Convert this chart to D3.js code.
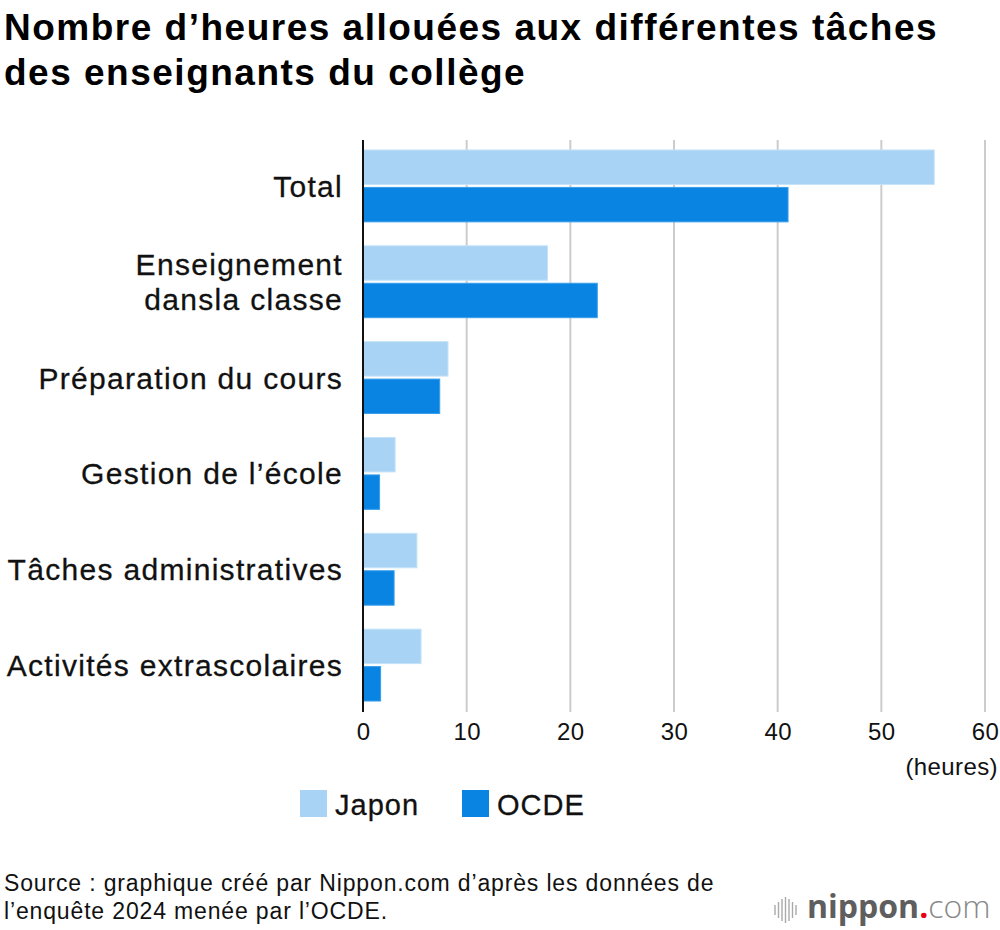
<!DOCTYPE html>
<html>
<head>
<meta charset="utf-8">
<script src="https://cdn.jsdelivr.net/npm/d3@7"></script>
<style>
  body { margin: 0; background: #fff; }
  svg { display: block; font-family: "Liberation Sans", Arial, sans-serif; }
</style>
</head>
<body>
<svg id="chart" width="1000" height="930"></svg>
<script>
const categories = [
  ["Total"],
  ["Enseignement", "dansla classe"],
  ["Préparation du cours"],
  ["Gestion de l’école"],
  ["Tâches administratives"],
  ["Activités extrascolaires"]
];
const series = ["Japon", "OCDE"];
const japon = [55.1, 17.8, 8.2, 3.1, 5.2, 5.6];
const ocde = [41.0, 22.6, 7.4, 1.6, 3.0, 1.7];
const xTicks = [0, 10, 20, 30, 40, 50, 60];
const colors = { "Japon": "#a8d3f5", "OCDE": "#0984e3" };
const strokes = { "Japon": "#c4e2f9", "OCDE": "#3a9eea" };

const svg = d3.select("#chart");
const keys = categories.map((c) => c.join(" "));
const rows = keys.map((k, i) => ({ key: k, lines: categories[i], Japon: japon[i], OCDE: ocde[i] }));

const x = d3.scaleLinear().domain([0, 60]).range([363, 985]);
const y = d3.scaleBand().domain(keys).range([138, 713]).paddingInner(0.25).paddingOuter(0.125);
const yInner = d3.scaleBand().domain(series).range([0, y.bandwidth()]).paddingInner(0.08);

// title
svg.append("text")
  .attr("x", 4).attr("y", 0)
  .style("font-size", "37px").style("font-weight", "bold")
  .style("letter-spacing", "1.5px")
  .selectAll("tspan")
  .data(["Nombre d’heures allouées aux différentes tâches", "des enseignants du collège"])
  .enter().append("tspan")
  .attr("x", 4)
  .attr("y", (d, i) => 40 + i * 45)
  .text((d) => d);

// grid
svg.append("g")
  .selectAll("line")
  .data(xTicks.filter((t) => t > 0))
  .enter().append("line")
  .attr("x1", (d) => x(d)).attr("x2", (d) => x(d))
  .attr("y1", 140).attr("y2", 712)
  .attr("stroke", "#cccccc").attr("stroke-width", 2);

// bars
const groups = svg.append("g")
  .selectAll("g")
  .data(rows)
  .enter().append("g")
  .attr("transform", (d) => "translate(0," + y(d.key) + ")");

groups.selectAll("rect")
  .data((d) => series.map((s) => ({ s: s, v: d[s] })))
  .enter().append("rect")
  .attr("x", x(0))
  .attr("y", (d) => yInner(d.s))
  .attr("width", (d) => x(d.v) - x(0))
  .attr("height", yInner.bandwidth())
  .attr("fill", (d) => colors[d.s])
  .attr("stroke", (d) => strokes[d.s])
  .attr("stroke-width", 1);

// category labels
groups.append("text")
  .attr("text-anchor", "end")
  .style("font-size", "30px")
  .style("letter-spacing", "1.3px")
  .attr("fill", "#111")
  .attr("stroke", "#111").attr("stroke-width", 0.3)
  .selectAll("tspan")
  .data((d) => d.lines.map((l, i) => ({ l: l, i: i, n: d.lines.length })))
  .enter().append("tspan")
  .attr("x", 343)
  .attr("y", (d) => y.bandwidth() / 2 + 11 + (d.i - (d.n - 1) / 2) * 35)
  .text((d) => d.l);

// y axis line
svg.append("line")
  .attr("x1", x(0)).attr("x2", x(0))
  .attr("y1", 140).attr("y2", 712)
  .attr("stroke", "#111").attr("stroke-width", 2);

// x axis
const xAxis = svg.append("g")
  .attr("transform", "translate(0,712)")
  .call(d3.axisBottom(x).tickValues(xTicks).tickSize(0).tickPadding(11));
xAxis.select(".domain").remove();
xAxis.selectAll("text")
  .style("font-size", "24px")
  .style("font-family", "Liberation Sans, Arial, sans-serif")
  .style("letter-spacing", "0.4px")
  .attr("fill", "#111");

svg.append("text")
  .attr("x", 998).attr("y", 775)
  .attr("text-anchor", "end")
  .style("font-size", "24px")
  .style("letter-spacing", "0.4px")
  .attr("fill", "#111")
  .text("(heures)");

// legend
const legend = svg.append("g")
  .selectAll("g")
  .data(series)
  .enter().append("g")
  .attr("transform", (d, i) => "translate(" + (300 + i * 162) + ",790)");
legend.append("rect")
  .attr("width", 27).attr("height", 27)
  .attr("fill", (d) => colors[d]);
legend.append("text")
  .attr("x", 35).attr("y", 25)
  .style("font-size", "29px")
  .style("letter-spacing", "1px")
  .attr("fill", "#111")
  .attr("stroke", "#111").attr("stroke-width", 0.3)
  .text((d) => d);

// source
svg.append("text")
  .style("font-size", "23px")
  .style("letter-spacing", "0.85px")
  .attr("fill", "#111")
  .selectAll("tspan")
  .data(["Source : graphique créé par Nippon.com d’après les données de", "l’enquête 2024 menée par l’OCDE."])
  .enter().append("tspan")
  .attr("x", 4)
  .attr("y", (d, i) => 891 + i * 28)
  .text((d) => d);

// logo
const logo = svg.append("g").attr("transform", "translate(775,918)");
const barH = [10, 16, 22, 26, 22, 16, 10];
logo.selectAll("line")
  .data(barH)
  .enter().append("line")
  .attr("x1", (d, i) => i * 3.5).attr("x2", (d, i) => i * 3.5)
  .attr("y1", (d) => -8 - d / 2).attr("y2", (d) => -8 + d / 2)
  .attr("stroke", "#aaa").attr("stroke-width", 1.4);
const lt = logo.append("text")
  .attr("x", 32).attr("y", 0)
  .style("font-family", "'Open Sans', sans-serif")
  .style("font-size", "32px");
lt.append("tspan").attr("fill", "#5e5e5e").style("font-weight", "700").text("nippon");
lt.append("tspan").attr("fill", "#e60012").style("font-weight", "700").text(".");
lt.append("tspan").attr("fill", "#888").style("font-weight", "300").text("com");
</script>
</body>
</html>
